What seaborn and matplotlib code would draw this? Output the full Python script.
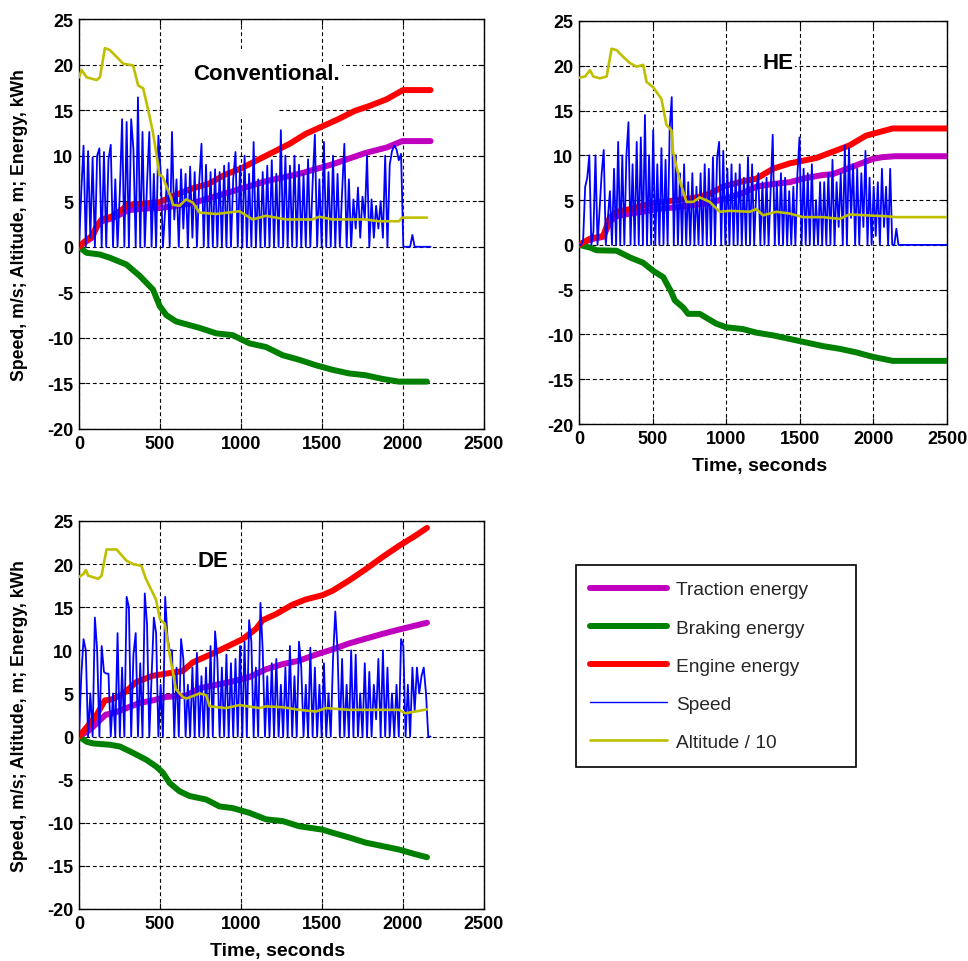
import numpy as np
import matplotlib
matplotlib.use("Agg")
import matplotlib.pyplot as plt
import seaborn as sns
from matplotlib.patches import Rectangle
from matplotlib.lines import Line2D

# ---------------- data ----------------
SPEED_DT = 14  # seconds between speed samples

conv_speed = [
    0, 6, 11.1, 0, 10.5, 1, 9.8, 0, 10.0, 10.8, 0, 10.4, 0, 9.6, 11.2, 0, 7.4, 0, 6, 14.0, 0, 13.7, 0, 14.0, 10.7, 0, 16.4, 0, 12.6, 0, 7.0, 12.6, 0, 8.0, 0, 12.2,
    8.2, 0, 4, 8.5, 0, 12.6, 3, 7.4, 0, 8.5, 2, 8.0, 0, 8.8, 1, 8.2, 0, 7, 11.3, 0, 9, 0, 8.2, 0, 8.5, 0, 8.2, 0, 8.9, 0, 9.2, 0, 7.5, 10.4, 0, 8.9,
    0, 10, 0, 8, 0, 11.5, 0, 7.4, 0, 8.2, 0, 8.9, 0, 9.5, 0, 8, 0, 12.8, 0, 10, 0, 8.9, 0, 10, 0, 9, 0, 8, 0, 9.6, 0, 7, 12.3, 0, 7.4, 0,
    11.5, 0, 8.2, 0, 10, 0, 8, 0, 6, 11.3, 0, 7.4, 0, 5.2, 2, 6.5, 1, 5.5, 3, 10, 0, 5.2, 1, 4.5, 2, 5, 1, 10, 0, 9, 10.5, 11.1, 10.7, 9.5, 10.2,
    0, 0, 0, 0, 1.3, 0, 0, 0, 0, 0, 0, 0, 0,
]
conv_eng_t = [0, 30, 80, 110, 140, 200, 260, 300, 400, 500, 560, 640, 700, 800, 900, 1000, 1100, 1200, 1300, 1400, 1500, 1600, 1700, 1800, 1900, 2000, 2170]
conv_eng_v = [0, 0.5, 1.2, 2.3, 3.0, 3.3, 4.0, 4.6, 4.75, 4.9, 5.4, 6.0, 6.4, 6.9, 7.9, 8.6, 9.5, 10.4, 11.3, 12.4, 13.2, 14.0, 14.9, 15.5, 16.2, 17.2, 17.2]
conv_tra_t = [0, 30, 80, 110, 140, 200, 260, 300, 400, 500, 600, 700, 800, 949, 1154, 1359, 1564, 1769, 1900, 1995, 2170]
conv_tra_v = [0, 0.4, 1.0, 2.2, 2.8, 3.1, 3.6, 4.0, 4.2, 4.25, 4.5, 4.8, 5.3, 6.1, 7.2, 8.0, 9.05, 10.3, 10.9, 11.6, 11.6]
conv_brk_t = [0, 47, 129, 190, 293, 375, 457, 498, 539, 600, 744, 847, 949, 1052, 1154, 1257, 1359, 1462, 1564, 1667, 1769, 1872, 1974, 2148]
conv_brk_v = [0, -0.66, -0.85, -1.2, -1.95, -3.2, -4.7, -6.5, -7.5, -8.2, -8.9, -9.5, -9.7, -10.6, -11, -11.9, -12.4, -13, -13.5, -13.9, -14.1, -14.5, -14.8, -14.8]
conv_alt_t = [0, 16, 47, 109, 129, 160, 190, 273, 334, 365, 396, 426, 455, 475, 496, 516, 568, 580, 621, 660, 703, 744, 847, 990, 1072, 1154, 1277, 1441, 1482, 1564, 1769, 1851, 1974, 1995, 2148]
conv_alt_v = [18.6, 19.4, 18.6, 18.3, 18.6, 21.8, 21.6, 20.1, 19.9, 17.7, 17.4, 15.1, 12.7, 10.5, 7.9, 7.7, 5.4, 4.6, 4.5, 5.2, 4.85, 3.75, 3.6, 3.9, 3.0, 3.4, 3.0, 3.0, 3.3, 3.0, 3.0, 2.8, 2.8, 3.2, 3.2]

he_speed = [
    0, 0, 0.5, 6.5, 7.5, 10, 0, 1.5, 10, 0, 4, 8, 10.6, 0, 3, 6, 0, 8.5, 0, 11.5, 0, 10, 0, 10, 13.7, 0, 9, 0, 11.5, 0, 12, 0, 14.5, 0, 10, 0,
    12.8, 0, 9, 0, 10.8, 0, 9.5, 0, 13, 16.5, 0, 10, 0, 8, 0, 9, 0, 7, 0, 8, 0, 6.5, 0, 8, 0, 9, 0, 8.5, 0, 9.8, 0, 9.7, 11.5, 0, 10.5, 0,
    8.5, 0, 9, 0, 8, 0, 9, 0, 7.5, 0, 9.8, 0, 9, 0, 6, 8, 0, 7, 0, 7.5, 0, 6, 12.3, 0, 7, 0, 8, 0, 7.5, 0, 6, 0, 6.5, 0, 8, 12,
    0, 8.5, 0, 8, 0, 9, 0, 5, 0, 7, 0, 7, 0, 8, 0, 9.5, 0, 7, 2, 8, 0, 11.1, 0, 10.8, 3, 9, 0, 8.5, 0, 8, 2, 10.5, 0, 7.5, 0, 6.5, 1, 7, 0, 8.5,
    2, 6.5, 0, 8.5, 0, 0, 1.8, 0,
    0, 0, 0, 0, 0, 0, 0, 0, 0, 0, 0, 0, 0, 0, 0, 0, 0, 0, 0, 0, 0, 0, 0, 0,
]
he_eng_t = [0, 75, 165, 210, 255, 346, 436, 527, 662, 798, 888, 979, 1114, 1205, 1318, 1431, 1521, 1611, 1724, 1837, 1950, 2063, 2131, 2500]
he_eng_v = [0, 0.7, 1.0, 3.1, 3.7, 4.0, 4.4, 4.7, 5.0, 5.3, 5.7, 6.5, 7.1, 7.4, 8.5, 9.1, 9.4, 9.7, 10.4, 11.1, 12.2, 12.7, 13.0, 13.0]
he_tra_t = [0, 75, 165, 210, 255, 346, 436, 527, 662, 753, 888, 979, 1114, 1205, 1318, 1431, 1521, 1656, 1724, 1837, 1996, 2063, 2150, 2500]
he_tra_v = [0, 0.6, 0.9, 2.6, 3.2, 3.5, 3.7, 4.0, 4.2, 4.4, 4.7, 5.1, 5.8, 6.5, 6.8, 7.0, 7.4, 7.8, 7.9, 8.6, 9.6, 9.8, 9.9, 9.9]
he_brk_t = [0, 75, 120, 255, 346, 436, 504, 572, 628, 651, 708, 741, 820, 933, 1001, 1114, 1205, 1318, 1431, 1544, 1656, 1770, 1883, 1996, 2131, 2500]
he_brk_v = [0, -0.3, -0.6, -0.65, -1.4, -2.0, -2.9, -3.6, -5.3, -6.2, -7.0, -7.7, -7.7, -8.8, -9.2, -9.4, -9.8, -10.1, -10.5, -10.9, -11.3, -11.6, -12.0, -12.5, -12.95, -12.95]
he_alt_t = [0, 41, 75, 97, 142, 188, 221, 255, 300, 346, 391, 436, 459, 504, 560, 594, 628, 639, 684, 730, 775, 820, 888, 956, 1024, 1159, 1205, 1250, 1340, 1431, 1521, 1656, 1770, 1837, 1950, 2086, 2154, 2500]
he_alt_v = [18.66, 18.8, 19.5, 18.8, 18.6, 18.8, 21.9, 21.75, 21.0, 20.3, 19.9, 20.1, 18.2, 17.6, 16.3, 13.4, 12.8, 10.4, 7.2, 4.8, 4.8, 5.3, 4.8, 3.7, 3.8, 3.7, 4.0, 3.3, 3.7, 3.5, 3.1, 3.1, 2.9, 3.4, 3.3, 3.2, 3.1, 3.1]

de_speed = [
    0, 7, 11.3, 10, 0, 5, 0, 13.8, 10, 0, 10.5, 7.5, 7.3, 7.3, 0, 5, 0, 12, 0, 8, 0, 16.2, 15, 0, 9.5, 12, 0, 8.5, 0, 16.6, 13, 0, 7, 13.8, 12, 0,
    6, 0, 16.2, 11.5, 10, 10, 0, 8, 0, 11.3, 9, 0, 6, 0, 8, 0, 9.7, 0, 7, 0, 8, 0, 10.5, 0, 12.2, 9, 0, 8, 0, 9.5, 0, 8.5, 0, 9, 0, 10.5,
    0, 11, 0, 13.5, 11, 0, 8, 0, 15.5, 10, 0, 7, 0, 8.5, 0, 9, 0, 6, 0, 8, 0, 10.5, 0, 7, 0, 11, 8, 0, 6, 0, 10.3, 0, 8, 0, 6, 0,
    8.5, 0, 5, 0, 9, 14.5, 10, 0, 9, 0, 6, 0, 10, 0, 9.5, 0, 5, 0, 8.5, 0, 7.5, 0, 6, 2, 9, 0, 10, 0, 8, 0, 5, 0, 6, 0, 11.3, 10.5, 0, 6, 0, 8, 3, 8, 5, 7, 8, 5, 0, 0,
]
de_eng_t = [0, 105, 160, 200, 270, 352, 455, 640, 702, 845, 1010, 1093, 1134, 1216, 1318, 1400, 1503, 1564, 1667, 1769, 1872, 1974, 2077, 2148]
de_eng_v = [0, 2.4, 4.2, 4.3, 4.9, 6.3, 7.05, 7.6, 8.6, 9.8, 11.3, 12.5, 13.5, 14.2, 15.3, 15.9, 16.4, 16.9, 18.1, 19.4, 20.8, 22.1, 23.3, 24.2]
de_tra_t = [0, 68, 129, 166, 211, 293, 375, 457, 539, 662, 744, 847, 949, 1052, 1154, 1257, 1359, 1462, 1564, 1667, 1769, 1872, 1974, 2148]
de_tra_v = [0, 0.8, 1.9, 2.55, 2.7, 3.3, 3.9, 4.2, 4.6, 4.75, 5.6, 6.0, 6.4, 6.9, 7.8, 8.4, 8.8, 9.5, 10.1, 10.8, 11.35, 11.9, 12.4, 13.2]
de_brk_t = [0, 47, 88, 190, 252, 334, 416, 478, 518, 560, 621, 683, 785, 867, 949, 1052, 1154, 1257, 1359, 1503, 1564, 1667, 1769, 1872, 1974, 2077, 2148]
de_brk_v = [0, -0.6, -0.8, -0.95, -1.15, -1.9, -2.7, -3.5, -4.2, -5.4, -6.35, -6.9, -7.3, -8.1, -8.3, -8.85, -9.6, -9.8, -10.4, -10.8, -11.15, -11.7, -12.3, -12.7, -13.1, -13.65, -14.0]
de_alt_t = [0, 27, 43, 57, 119, 139, 170, 232, 293, 334, 385, 413, 475, 500, 530, 557, 598, 640, 662, 744, 785, 806, 908, 990, 1113, 1154, 1257, 1359, 1462, 1523, 1667, 1974, 2015, 2148]
de_alt_v = [18.5, 18.85, 19.3, 18.65, 18.3, 18.65, 21.7, 21.7, 20.4, 20.0, 19.8, 18.3, 15.9, 13.6, 13.1, 9.8, 5.5, 4.6, 4.4, 5.0, 4.8, 3.5, 3.3, 3.65, 3.3, 3.5, 3.4, 3.1, 2.9, 3.3, 3.1, 3.1, 2.7, 3.15]

legend_labels = ["Traction energy", "Braking energy", "Engine energy", "Speed", "Altitude / 10"]
panel_titles = ["Conventional.", "HE", "DE"]
y_ticks = [-20, -15, -10, -5, 0, 5, 10, 15, 20, 25]
x_ticks = [0, 500, 1000, 1500, 2000, 2500]

# ---------------- style ----------------
sns.set_theme(style="white")
plt.rcParams['font.family'] = ['Liberation Sans', 'DejaVu Sans']

C_TRA = '#BF00BF'
C_BRK = '#008000'
C_ENG = '#FF0000'
C_SPD = '#0000FF'
C_ALT = '#BFBF00'
LW_THICK = 4.3

W, H = 968, 962
fig = plt.figure(figsize=(W / 100, H / 100), dpi=100)
fig.patch.set_facecolor('white')


def add_axes_px(x0, y0, x1, y1):
    return fig.add_axes([x0 / W, 1 - y1 / H, (x1 - x0) / W, (y1 - y0) / H])


def draw_panel(ax, speed, tra, brk, eng, alt):
    st = np.arange(len(speed)) * SPEED_DT
    sns.lineplot(x=tra[0], y=tra[1], ax=ax, color=C_TRA, lw=LW_THICK, estimator=None, sort=False, legend=False, zorder=3)
    sns.lineplot(x=brk[0], y=brk[1], ax=ax, color=C_BRK, lw=LW_THICK, estimator=None, sort=False, legend=False, zorder=3)
    sns.lineplot(x=eng[0], y=eng[1], ax=ax, color=C_ENG, lw=LW_THICK, estimator=None, sort=False, legend=False, zorder=3)
    sns.lineplot(x=st, y=speed, ax=ax, color=C_SPD, lw=1.3, estimator=None, sort=False, legend=False, zorder=4)
    sns.lineplot(x=alt[0], y=alt[1], ax=ax, color=C_ALT, lw=1.9, estimator=None, sort=False, legend=False, zorder=5)
    ax.set_xlim(0, 2500)
    ax.set_ylim(-20, 25)
    ax.set_xticks(x_ticks)
    ax.set_yticks(y_ticks)
    ax.set_xticklabels([str(v) for v in x_ticks], fontweight='bold', fontsize=13)
    ax.set_yticklabels([str(v) for v in y_ticks], fontweight='bold', fontsize=13)
    ax.tick_params(direction='in', length=4, width=0.8, colors='black', pad=4,
                   bottom=True, left=True, top=True, right=True)
    ax.grid(True, color='black', linestyle=(0, (3.5, 2.5)), linewidth=0.8)
    for s in ax.spines.values():
        s.set_color('black')
        s.set_linewidth(1.0)
    ax.set_xlabel('')
    ax.set_ylabel('')


ax1 = add_axes_px(79, 20, 484, 430)
ax2 = add_axes_px(579, 22, 947, 425)
ax3 = add_axes_px(79, 522, 484, 910)

draw_panel(ax1, conv_speed, (conv_tra_t, conv_tra_v), (conv_brk_t, conv_brk_v),
           (conv_eng_t, conv_eng_v), (conv_alt_t, conv_alt_v))
draw_panel(ax2, he_speed, (he_tra_t, he_tra_v), (he_brk_t, he_brk_v),
           (he_eng_t, he_eng_v), (he_alt_t, he_alt_v))
draw_panel(ax3, de_speed, (de_tra_t, de_tra_v), (de_brk_t, de_brk_v),
           (de_eng_t, de_eng_v), (de_alt_t, de_alt_v))

# white box behind the first panel title
ax1.add_patch(Rectangle((524, 14.0), 698, 7.7, facecolor='white', edgecolor='none', zorder=1.6))

title_kw = dict(fontsize=16, fontweight='bold', color='black', ha='center', va='center', zorder=6,
                bbox=dict(facecolor='white', edgecolor='none', pad=1.0))
ax1.text(1160, 19.0, panel_titles[0], **title_kw)
ax2.text(1352, 20.4, panel_titles[1], **title_kw)
ax3.text(827, 20.4, panel_titles[2], **title_kw)

ylab = "Speed, m/s; Altitude, m; Energy, kWh"
for ax in (ax1, ax3):
    ax.set_ylabel(ylab, fontweight='bold', fontsize=12.7, color='black')
ax1.yaxis.set_label_coords(-0.125, 0.5)
ax3.yaxis.set_label_coords(-0.125, 0.5)

for ax, xc, yc in ((ax2, 0.49, -0.083), (ax3, 0.491, -0.085)):
    ax.set_xlabel("Time, seconds", fontweight='bold', fontsize=14, color='black')
    ax.xaxis.set_label_coords(xc, yc)

# legend box
fig.add_artist(Rectangle((576 / W, 1 - 768 / H), 280 / W, 202 / H, transform=fig.transFigure,
                         fill=False, edgecolor='black', linewidth=1.2))
handles = [Line2D([0], [0], color=C_TRA, lw=LW_THICK),
           Line2D([0], [0], color=C_BRK, lw=LW_THICK),
           Line2D([0], [0], color=C_ENG, lw=LW_THICK),
           Line2D([0], [0], color=C_SPD, lw=1.0),
           Line2D([0], [0], color=C_ALT, lw=1.9)]
fig.legend(handles, legend_labels, loc='upper left', bbox_to_anchor=(590 / W, 1 - 582 / H),
           frameon=False, fontsize=13.8, handlelength=4.0, handletextpad=0.47,
           labelspacing=1.08, borderpad=0, borderaxespad=0)

fig.savefig('out.png', dpi=100, facecolor='white')
